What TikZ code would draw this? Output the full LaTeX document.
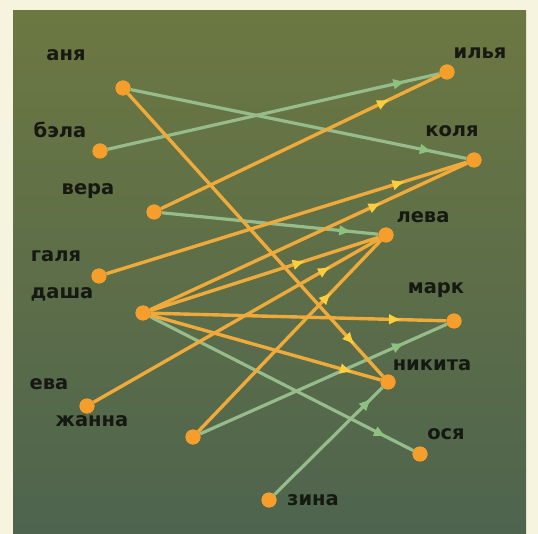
\documentclass[tikz,border=0pt]{standalone}
\usepackage{fontspec}
\setmainfont{DejaVu Sans}
\usetikzlibrary{arrows.meta,decorations.markings}
\definecolor{bgcream}{RGB}{246,243,222}
\definecolor{bgtop}{RGB}{108,120,66}
\definecolor{bgmid}{RGB}{84,112,66}
\definecolor{bgbot}{RGB}{78,100,78}
\definecolor{dotor}{RGB}{246,158,44}
\definecolor{lineor}{RGB}{238,170,58}
\definecolor{arror}{RGB}{252,206,62}
\definecolor{linegr}{RGB}{150,188,140}
\definecolor{arrgr}{RGB}{140,194,126}
\definecolor{txt}{RGB}{22,24,18}
\tikzset{
  pdot/.style={circle, fill=dotor, inner sep=0pt, minimum size=15pt},
  plabel/.style={font=\bfseries\fontsize{19.5}{20}\selectfont, text=txt, inner sep=0pt},
  oline/.style={draw=lineor, line width=3.4pt},
  gline/.style={draw=linegr, line width=3.2pt},
  omark/.style={postaction={decorate}, decoration={markings, mark=at position #1 with {\arrow[arror]{Latex[length=13pt,width=11pt]}}}},
  gmark/.style={postaction={decorate}, decoration={markings, mark=at position #1 with {\arrow[arrgr]{Latex[length=13pt,width=11pt]}}}}
}
\begin{document}
\begin{tikzpicture}[x=1pt,y=-1pt]
\useasboundingbox (0,0) rectangle (538,534);
\fill[bgcream] (0,0) rectangle (538,534);
\shade[top color=bgtop, middle color=bgmid, bottom color=bgbot] (13,11) rectangle (526,534);
% people on the left
\node[pdot] (anya) at (123,88) {};
\node[pdot] (bela) at (100,151) {};
\node[pdot] (vera) at (154,212) {};
\node[pdot] (galya) at (99,276) {};
\node[pdot] (dasha) at (143,313) {};
\node[pdot] (eva) at (87,406) {};
\node[pdot] (zhanna) at (193,437) {};
\node[pdot] (zina) at (269,500) {};
% people on the right
\node[pdot] (ilya) at (447,72) {};
\node[pdot] (kolya) at (474,160) {};
\node[pdot] (leva) at (386,235) {};
\node[pdot] (mark) at (454,321) {};
\node[pdot] (nikita) at (388,382) {};
\node[pdot] (osya) at (420,454) {};
% labels
\node[plabel] (t-anya) at (66,55) {аня};
\node[plabel] (t-bela) at (60,130) {бэла};
\node[plabel] (t-vera) at (88,191) {вера};
\node[plabel] (t-galya) at (56,256) {галя};
\node[plabel] (t-dasha) at (62,294) {даша};
\node[plabel] (t-eva) at (49,384) {ева};
\node[plabel] (t-zhanna) at (92,421) {жанна};
\node[plabel] (t-zina) at (313,500) {зина};
\node[plabel] (t-ilya) at (480,53) {илья};
\node[plabel] (t-kolya) at (452,131) {коля};
\node[plabel] (t-leva) at (423,217) {лева};
\node[plabel] (t-mark) at (436,290) {марк};
\node[plabel] (t-nikita) at (432,365) {никита};
\node[plabel] (t-osya) at (446,434) {ося};
% green connectors
\draw[gline, gmark=0.9] (anya) -- (kolya);
\draw[gline, gmark=0.9] (bela) -- (ilya);
\draw[gline, gmark=0.88] (vera) -- (leva);
\draw[gline, gmark=0.9] (dasha) -- (osya);
\draw[gline, gmark=0.83] (zhanna) -- (mark);
\draw[gline, gmark=0.9] (zina) -- (nikita);
% orange connectors
\draw[oline, omark=0.89] (anya) -- (nikita);
\draw[oline, omark=0.82] (vera) -- (ilya);
\draw[oline, omark=0.83] (galya) -- (kolya);
\draw[oline, omark=0.73] (dasha) -- (kolya);
\draw[oline, omark=0.68] (dasha) -- (leva);
\draw[oline, omark=0.85] (dasha) -- (mark);
\draw[oline, omark=0.88] (dasha) -- (nikita);
\draw[oline, omark=0.83] (eva) -- (leva);
\draw[oline, omark=0.73] (zhanna) -- (leva);
% dots on top
\foreach \p in {anya,bela,vera,galya,dasha,eva,zhanna,zina,ilya,kolya,leva,mark,nikita,osya}
  \fill[dotor] (\p) circle (7.5pt);
\end{tikzpicture}
\end{document}
